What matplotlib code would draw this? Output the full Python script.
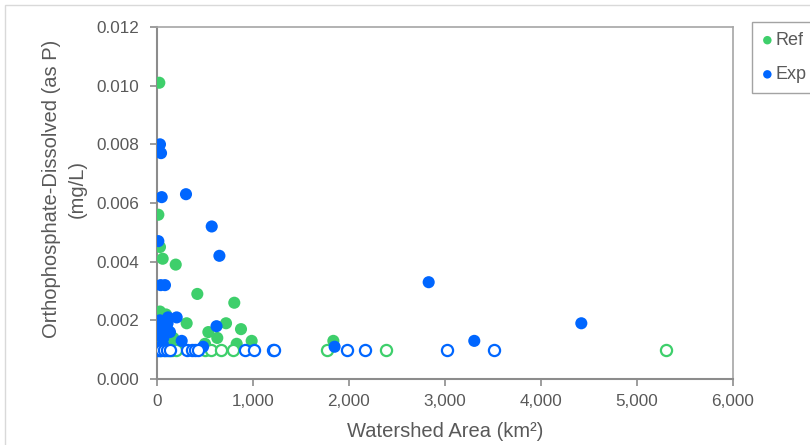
import matplotlib
matplotlib.use("Agg")
import matplotlib.pyplot as plt
from matplotlib.patches import Rectangle
from matplotlib.ticker import FuncFormatter, MultipleLocator

plt.rcParams['font.family'] = ['Liberation Sans', 'DejaVu Sans']

GREEN = '#3ECF6B'
BLUE = '#0066FF'
GRAY_TXT = '#595959'
GRAY_AX = '#8C8C8C'

# Reference sites, detected values
ref_area = [24, 14, 31, 59, 195, 420, 805, 31, 94, 309, 719, 875, 535, 628,
            986, 830, 500, 170, 14, 1837, 79, 60, 120, 40, 150]
ref_conc = [0.0101, 0.0056, 0.0045, 0.0041, 0.0039, 0.0029, 0.0026, 0.0023,
            0.0022, 0.0019, 0.0019, 0.0017, 0.0016, 0.0014, 0.0013, 0.0012,
            0.0012, 0.0014, 0.0020, 0.0013, 0.0017, 0.0012, 0.0016, 0.0015, 0.0011]
# Reference sites, non-detects (plotted at reporting limit)
ref_nd_area = [30, 80, 120, 160, 200, 500, 565, 665, 790, 1770, 2390, 5300]
ref_nd_conc = [0.001] * len(ref_nd_area)

# Exposed sites, detected values
exp_area = [31, 42, 49, 302, 14, 570, 650, 38, 83, 115, 205, 14, 100, 90,
            620, 14, 135, 66, 257, 1850, 2830, 3305, 4420, 480, 10, 50, 80,
            30, 60, 110]
exp_conc = [0.0080, 0.0077, 0.0062, 0.0063, 0.0047, 0.0052, 0.0042, 0.0032,
            0.0032, 0.0021, 0.0021, 0.0019, 0.0018, 0.0017, 0.0018, 0.0015,
            0.0016, 0.0014, 0.0013, 0.0011, 0.0033, 0.0013, 0.0019, 0.0011,
            0.0010, 0.0010, 0.0010, 0.0020, 0.0012, 0.0019]
# Exposed sites, non-detects
exp_nd_area = [0, 20, 45, 70, 100, 140, 310, 360, 395, 430, 920, 1015,
               1210, 1220, 1975, 2170, 3020, 3510]
exp_nd_conc = [0.001] * len(exp_nd_area)

fig = plt.figure(figsize=(8.1, 4.45), dpi=100)
ax = fig.add_axes([157 / 810, 66 / 445, 576 / 810, 352 / 445])

ms = 76
ax.scatter(ref_area, ref_conc, s=ms, color=GREEN, edgecolors='none', zorder=3, label='Ref')
ax.scatter(ref_nd_area, ref_nd_conc, s=ms * 0.85, facecolors='white', edgecolors=GREEN,
           linewidths=1.6, zorder=3)
ax.scatter(exp_area, exp_conc, s=ms, color=BLUE, edgecolors='none', zorder=4, label='Exp')
ax.scatter(exp_nd_area, exp_nd_conc, s=ms * 0.85, facecolors='white', edgecolors=BLUE,
           linewidths=1.6, zorder=4)

ax.set_xlim(0, 6000)
ax.set_ylim(0, 0.012)
ax.xaxis.set_major_locator(MultipleLocator(1000))
ax.yaxis.set_major_locator(MultipleLocator(0.002))
ax.xaxis.set_major_formatter(FuncFormatter(lambda v, p: f"{int(v):,}"))
ax.yaxis.set_major_formatter(FuncFormatter(lambda v, p: f"{v:.3f}"))

for side in ['top', 'right']:
    ax.spines[side].set_color('#A6A6A6')
    ax.spines[side].set_linewidth(1.2)
for side in ['left', 'bottom']:
    ax.spines[side].set_color(GRAY_AX)
    ax.spines[side].set_linewidth(1.5)
ax.tick_params(axis='both', colors=GRAY_AX, labelcolor=GRAY_TXT, labelsize=12.3,
               length=5, width=1.2, direction='out')
ax.tick_params(axis='x', pad=6)
ax.tick_params(axis='y', pad=8)

ax.set_xlabel('Watershed Area (km²)', fontsize=14.5, color=GRAY_TXT, labelpad=9)
ax.set_ylabel('Orthophosphate-Dissolved (as P)\n(mg/L)', fontsize=14.5,
              color=GRAY_TXT, linespacing=1.45)
ax.yaxis.set_label_coords(-0.122, 0.54)

leg = fig.legend(loc='upper left', bbox_to_anchor=(752 / 810, 1 - 22 / 445),
                 frameon=True, fancybox=False, fontsize=13, handletextpad=0.15,
                 handlelength=0.6, markerscale=0.7, borderpad=0.55, labelspacing=0.95,
                 borderaxespad=0)
leg.get_frame().set_edgecolor(GRAY_AX)
leg.get_frame().set_linewidth(1.0)
for t in leg.get_texts():
    t.set_color(GRAY_TXT)

fig.patches.append(Rectangle((5 / 810, -0.1), 1.1, 1 - 5 / 445 + 0.1,
                             transform=fig.transFigure, fill=False,
                             edgecolor='#D9D9D9', linewidth=1.0))

fig.savefig('out.png', dpi=100)
